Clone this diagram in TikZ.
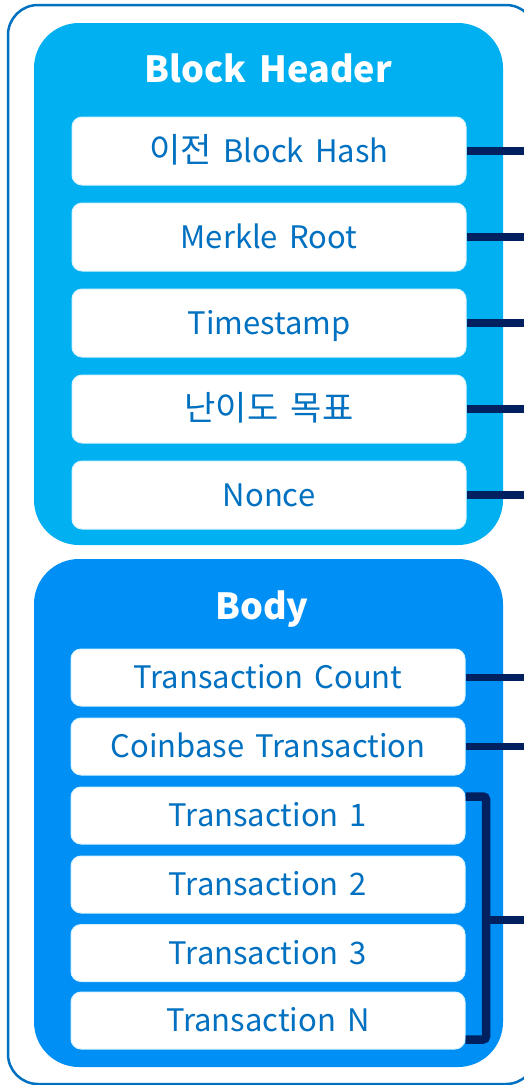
\documentclass[tikz,border=0pt]{standalone}
\usepackage{fontspec}
\setmainfont{Noto Sans CJK KR}[WordSpace=1.6]
\usetikzlibrary{calc}

\definecolor{frameblue}{RGB}{0,112,192}
\definecolor{headerblue}{RGB}{0,176,240}
\definecolor{bodyblue}{RGB}{0,143,245}
\definecolor{textblue}{RGB}{0,112,192}
\definecolor{linknavy}{RGB}{0,32,96}

% larger glyphs for the Korean words
\newcommand{\kr}[1]{{\fontsize{34}{40}\selectfont #1}}

\tikzset{
  panel/.style={fill=#1, draw=none, rounded corners=45pt},
  title/.style={text=white, font=\fontsize{36}{42}\selectfont\bfseries,
    text height=26.4pt, text depth=0pt, inner sep=0pt},
  field/.style={fill=white, draw=white!85!headerblue, line width=1pt,
    rounded corners=10pt, minimum width=394pt, minimum height=#1,
    text=textblue, font=\fontsize{31}{36}\selectfont,
    text height=22.7pt, text depth=0pt, inner sep=0pt},
  link/.style={draw=linknavy, line width=7.5pt},
}

\begin{document}
\begin{tikzpicture}[x=1pt, y=-1pt]
  \useasboundingbox (0,0) rectangle (523,1085);

  % outer frame, running past the right edge of the page
  \draw[frameblue, line width=2.5pt, rounded corners=30pt] (8,5) rectangle (536,1084);

  % header panel
  \fill[panel=headerblue] (34,23) rectangle (503,545);
  \node[title] (htitle) at (268,69) {Block Header};
  \node[field=68pt] (prev)   at (269,151) {\kr{이전} Block Hash};
  \node[field=68pt] (merkle) at (269,237) {Merkle Root};
  \node[field=68pt] (time)   at (269,323) {Timestamp};
  \node[field=68pt] (target) at (269,409) {\kr{난이도 목표}};
  \node[field=68pt] (nonce)  at (269,495) {Nonce};

  % body panel
  \fill[panel=bodyblue] (34,559) rectangle (503,1067);
  \node[title] (btitle) at (262,606) {Body};
  \node[field=57pt] (count) at (268,677.5) {Transaction Count};
  \node[field=57pt] (coin)  at (268,746.5) {Coinbase Transaction};
  \node[field=57pt] (t1)    at (268,815.5) {Transaction 1};
  \node[field=57pt] (t2)    at (268,884.5) {Transaction 2};
  \node[field=57pt] (t3)    at (268,953) {Transaction 3};
  \node[field=57pt] (tn)    at (268,1020.5) {Transaction N};

  % links leaving to the right
  \foreach \n in {prev,merkle,time,target,nonce,count,coin}{
    \coordinate (\n-out) at ($(\n.east)+(70,0)$);
    \draw[link] (\n.east) -- (\n-out);
  }

  % bracket grouping the transactions
  \coordinate (brtop) at ($(t1.north east)+(0,10)$);
  \coordinate (brbot) at ($(tn.south east)+(0,-10)$);
  \coordinate (brmid) at (486,920);
  \coordinate (brout) at (540,920);
  \draw[link, line width=8.5pt, rounded corners=3pt]
    (brtop) -- (brtop -| brmid) -- (brbot -| brmid) -- (brbot);
  \draw[link] (brmid) -- (brout);
\end{tikzpicture}
\end{document}
